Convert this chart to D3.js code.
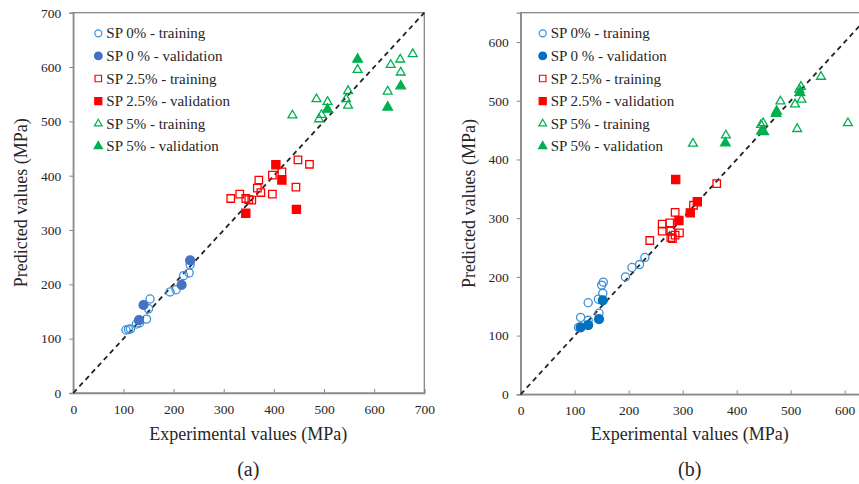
<!DOCTYPE html>
<html>
<head>
<meta charset="utf-8">
<script src="https://cdn.jsdelivr.net/npm/d3@7"></script>
<style>
  body { margin: 0; background: #fff; }
  svg text { font-family: "Liberation Serif", Tinos, "Times New Roman", Times, "Noto Serif", "DejaVu Serif", FreeSerif, serif !important; }
</style>
</head>
<body>
<div id="chart"></div>
<script>
// Panel (a) data: [experimental, predicted]
const a_sp0_train = [[105,116],[110,117],[114,118],[126,127],[132,129],[146,136],[150,155],[153,173],[193,186],[205,190],[220,216],[231,221],[233,236]];
const a_sp0_valid = [[131,134],[140,162],[216,199],[233,244]];
const a_sp25_train = [[314,358],[332,366],[344,358],[350,356],[356,355],[367,377],[370,392],[374,369],[397,366],[397,401],[416,407],[444,379],[448,429],[471,421]];
const a_sp25_valid = [[344,331],[404,420],[416,392],[445,338]];
const a_sp5_train = [[437,511],[485,541],[490,504],[495,512],[507,536],[544,541],[548,556],[548,529],[567,595],[627,555],[633,604],[652,614],[653,590],[677,624]];
const a_sp5_valid = [[507,522],[567,614],[627,526],[653,565]];

// Panel (b) data
const b_sp0_train = [[107,114],[111,131],[125,126],[125,156],[145,138],[144,162],[152,172],[150,186],[153,191],[194,200],[206,216],[220,221],[230,233]];
const b_sp0_valid = [[111,114],[125,118],[145,128],[152,160]];
const b_sp25_train = [[239,262],[262,290],[262,278],[276,292],[278,278],[278,267],[281,265],[286,271],[286,310],[294,275],[320,322],[363,359]];
const b_sp25_valid = [[287,366],[293,296],[314,309],[327,328]];
const b_sp5_train = [[319,427],[380,441],[445,459],[449,462],[481,499],[508,494],[512,452],[516,519],[519,524],[520,502],[556,541],[606,462]];
const b_sp5_valid = [[379,428],[446,448],[450,447],[473,478],[474,482],[517,514]];

const legendLabels = ["SP 0% - training", "SP 0 % - validation", "SP 2.5% - training", "SP 2.5% - validation", "SP 5% - training", "SP 5% - validation"];
const ticksA = [0, 100, 200, 300, 400, 500, 600, 700];
const ticksB = [0, 100, 200, 300, 400, 500, 600];

const W = 859, H = 484;
const svg = d3.select("#chart").append("svg").attr("width", W).attr("height", H);

const BLUE_OPEN = "#3d8fd8";
const GREEN = "#00b050";
const RED = "#ff0000";

function styles(validBlue) {
  return [
    { shape: d3.symbolCircle, size: 52, fill: "none", stroke: BLUE_OPEN },
    { shape: d3.symbolCircle, size: 62, fill: validBlue, stroke: validBlue },
    { shape: d3.symbolSquare, size: 56, fill: "none", stroke: RED },
    { shape: d3.symbolSquare, size: 66, fill: RED, stroke: RED },
    { shape: d3.symbolTriangle, size: 34, fill: "none", stroke: GREEN },
    { shape: d3.symbolTriangle, size: 40, fill: GREEN, stroke: GREEN }
  ];
}

function drawPanel(opt) {
  const g = svg.append("g").attr("transform", `translate(${opt.left},${opt.top})`);
  const x = d3.scaleLinear().domain([0, opt.max]).range([0, opt.width]);
  const y = d3.scaleLinear().domain([0, opt.max]).range([opt.height, 0]);

  // frame
  g.append("rect")
    .attr("x", 0).attr("y", 0)
    .attr("width", opt.width).attr("height", opt.height)
    .attr("fill", "none").attr("stroke", "#888").attr("stroke-width", 1.3);

  // x axis, ticks pointing inward
  const xAxis = g.append("g").attr("transform", `translate(0,${opt.height})`)
    .call(d3.axisBottom(x).tickValues(opt.xTicks).tickSize(-4).tickPadding(11));
  xAxis.attr("font-family", null);
  xAxis.select(".domain").attr("stroke", "#888").attr("stroke-width", 1.3);
  xAxis.selectAll(".tick line").attr("stroke", "#888");
  xAxis.selectAll("text").attr("font-size", 13.5).attr("fill", "#262626");

  const yAxis = g.append("g")
    .call(d3.axisLeft(y).tickValues(opt.yTicks).tickSize(4).tickPadding(8));
  yAxis.attr("font-family", null);
  yAxis.select(".domain").attr("stroke", "#888").attr("stroke-width", 1.3);
  yAxis.selectAll(".tick line").attr("stroke", "#888");
  yAxis.selectAll("text").attr("font-size", 13.5).attr("fill", "#262626");

  // 1:1 line
  g.append("line")
    .attr("x1", x(0)).attr("y1", y(0))
    .attr("x2", x(opt.max)).attr("y2", y(opt.max))
    .attr("stroke", "#222").attr("stroke-width", 1.8)
    .attr("stroke-dasharray", "5,4");

  const st = styles(opt.validBlue);
  opt.series.forEach((data, i) => {
    const s = st[i];
    g.append("g").selectAll("path")
      .data(data)
      .join("path")
      .attr("d", d3.symbol().type(s.shape).size(s.size))
      .attr("transform", d => `translate(${x(d[0])},${y(d[1])})`)
      .attr("fill", s.fill)
      .attr("stroke", s.stroke)
      .attr("stroke-width", 1.3);
  });

  // legend
  const lg = g.append("g").attr("transform", `translate(${opt.legendX},${opt.legendY})`);
  legendLabels.forEach((label, i) => {
    const s = st[i];
    const row = lg.append("g").attr("transform", `translate(0,${i * 22.6})`);
    row.append("path")
      .attr("d", d3.symbol().type(s.shape).size(s.size * 0.75))
      .attr("fill", s.fill).attr("stroke", s.stroke).attr("stroke-width", 1.2);
    row.append("text")
      .attr("x", 8).attr("y", 0)
      .attr("dominant-baseline", "central")
      .attr("font-size", 15)
      .attr("fill", "#262626")
      .text(label);
  });

  // titles
  svg.append("text")
    .attr("transform", `translate(${opt.left - 46},${opt.top + opt.height / 2}) rotate(-90)`)
    .attr("text-anchor", "middle")
    .attr("font-size", 18)
    .attr("fill", "#262626")
    .text("Predicted values (MPa)");

  svg.append("text")
    .attr("x", opt.left + opt.xCenter).attr("y", 440)
    .attr("text-anchor", "middle")
    .attr("font-size", 18)
    .attr("fill", "#262626")
    .text("Experimental values (MPa)");

  svg.append("text")
    .attr("x", opt.left + opt.xCenter).attr("y", 476)
    .attr("text-anchor", "middle")
    .attr("font-size", 20)
    .attr("fill", "#262626")
    .text(opt.tag);
}

drawPanel({
  left: 73.3, top: 12.7, width: 351, height: 380.3, max: 700,
  xTicks: ticksA, yTicks: ticksA,
  validBlue: "#4472c4",
  series: [a_sp0_train, a_sp0_valid, a_sp25_train, a_sp25_valid, a_sp5_train, a_sp5_valid],
  legendX: 25, legendY: 20.6, xCenter: 175, tag: "(a)"
});

drawPanel({
  left: 520.7, top: 12.7, width: 351, height: 381.6, max: 650,
  xTicks: ticksB, yTicks: ticksB,
  validBlue: "#0070c0",
  series: [b_sp0_train, b_sp0_valid, b_sp25_train, b_sp25_valid, b_sp5_train, b_sp5_valid],
  legendX: 22, legendY: 20.6, xCenter: 169, tag: "(b)"
});
</script>
</body>
</html>
